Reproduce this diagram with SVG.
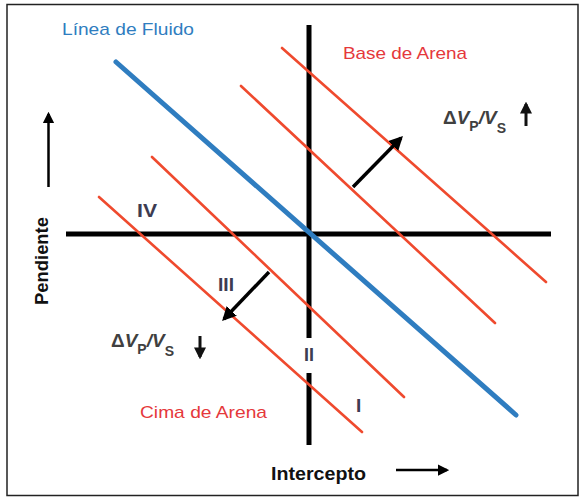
<svg xmlns="http://www.w3.org/2000/svg" width="586" height="501" viewBox="0 0 586 501">
<defs>
<style>
.red{stroke:#ef4a2e;stroke-width:2.6;fill:none;stroke-linecap:round}
.blue{stroke:#2f7dc0;stroke-width:5;fill:none;stroke-linecap:round}
.axis{stroke:#000;stroke-width:5;fill:none}
.arr{stroke:#000;stroke-width:3.5;fill:none}
.thin{stroke:#000;stroke-width:2.5;fill:none}
.mid{stroke:#111;stroke-width:3;fill:none}
.lbl{font-family:"Liberation Sans",Arial,sans-serif;font-size:17px}
.rn{font-family:"Liberation Sans",Arial,sans-serif;font-size:19px;fill:#3d3c52;font-weight:bold}
.dv{font-family:"Liberation Sans",Arial,sans-serif;font-size:19px;fill:#404040;font-weight:bold}
.ax{font-family:"Liberation Sans",Arial,sans-serif;font-size:18px;font-weight:bold;fill:#111}
</style>
<marker id="ah" viewBox="0 0 10 10" refX="8" refY="5" markerWidth="4" markerHeight="4" orient="auto" markerUnits="strokeWidth">
<path d="M0,0 L10,5 L0,10 z" fill="#000"/>
</marker>
<marker id="ahs" viewBox="0 0 10 10" refX="8" refY="5" markerWidth="4.5" markerHeight="4.5" orient="auto" markerUnits="strokeWidth">
<path d="M0,0 L10,5 L0,10 z" fill="#000"/>
</marker>
<marker id="ahb" viewBox="0 0 10 10" refX="8" refY="5" markerWidth="4" markerHeight="4" orient="auto" markerUnits="strokeWidth">
<path d="M0,0 L10,5 L0,10 z" fill="#111"/>
</marker>
</defs>
<rect x="0" y="0" width="586" height="501" fill="#fff"/>
<rect x="7" y="4.5" width="571" height="491" fill="none" stroke="#222" stroke-width="1.5"/>
<g id="axes">
<line class="axis" x1="66" y1="234" x2="551" y2="234"/>
<line class="axis" x1="309" y1="25" x2="309" y2="338"/>
<line class="axis" x1="309" y1="373" x2="309" y2="445"/>
</g>
<g id="lines">
<line class="red" x1="282" y1="48" x2="546" y2="282"/>
<line class="red" x1="241" y1="86" x2="495" y2="323"/>
<line class="red" x1="152" y1="157" x2="404" y2="397"/>
<line class="red" x1="99" y1="197" x2="362" y2="432"/>
<line class="blue" x1="116" y1="62" x2="516" y2="415"/>
</g>
<g id="connectors">
<line class="arr" x1="353" y1="187" x2="401" y2="138" marker-end="url(#ah)"/>
<line class="arr" x1="269" y1="272" x2="224" y2="319" marker-end="url(#ah)"/>
<line class="thin" x1="48.5" y1="187" x2="48.5" y2="114" marker-end="url(#ahs)"/>
<line class="thin" x1="396" y1="470" x2="447" y2="470" marker-end="url(#ahs)"/>
<line class="mid" x1="526" y1="126" x2="526" y2="104" marker-end="url(#ahb)"/>
<line class="mid" x1="200" y1="336" x2="200" y2="357" marker-end="url(#ahb)"/>
</g>
<g id="labels">
<text class="lbl" x="62" y="35" fill="#2f7dc0" textLength="132" lengthAdjust="spacingAndGlyphs">Línea de Fluido</text>
<text class="lbl" x="343" y="59" fill="#e5383b" textLength="124" lengthAdjust="spacingAndGlyphs">Base de Arena</text>
<text class="lbl" x="140" y="418" fill="#e5383b" textLength="127" lengthAdjust="spacingAndGlyphs">Cima de Arena</text>
<text class="rn" x="137" y="217" textLength="20" lengthAdjust="spacingAndGlyphs">IV</text>
<text class="rn" x="218" y="291" textLength="16" lengthAdjust="spacingAndGlyphs">III</text>
<text class="rn" x="304" y="361" textLength="10" lengthAdjust="spacingAndGlyphs">II</text>
<text class="rn" x="356" y="412">I</text>
<text class="dv" x="443" y="124">Δ<tspan font-style="italic">V</tspan><tspan font-size="14" dy="7">P</tspan><tspan dy="-7" font-style="italic">/V</tspan><tspan font-size="14" dy="9">S</tspan></text>
<text class="dv" x="111" y="347">Δ<tspan font-style="italic">V</tspan><tspan font-size="14" dy="7">P</tspan><tspan dy="-7" font-style="italic">/V</tspan><tspan font-size="14" dy="9">S</tspan></text>
<text class="ax" x="48" y="261" text-anchor="middle" transform="rotate(-90 48 261)" textLength="88" lengthAdjust="spacingAndGlyphs">Pendiente</text>
<text class="ax" x="271" y="480" textLength="95" lengthAdjust="spacingAndGlyphs">Intercepto</text>
</g>
</svg>
